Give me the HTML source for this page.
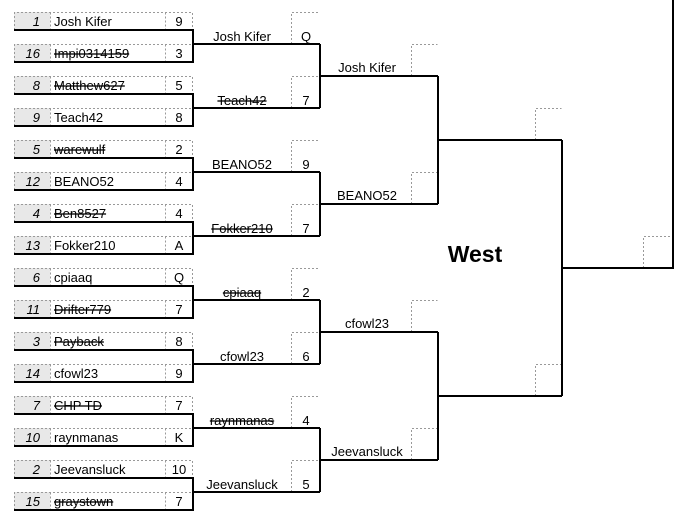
<!DOCTYPE html>
<html><head><meta charset="utf-8"><style>
html,body{margin:0;padding:0;background:#fff;width:682px;height:526px;overflow:hidden}
svg{display:block}
text{font-family:"Liberation Sans",Arial,sans-serif;font-size:13px;fill:#000}
.sd{font-style:italic;text-anchor:end}
.sc{text-anchor:middle}
.nm{text-anchor:middle}
.s{text-decoration:line-through}
.d{fill:none;stroke:#999;stroke-width:1;stroke-dasharray:2,2}
.g{fill:#e8e8e8}
.l{fill:none;stroke:#000;stroke-width:2}
</style></head><body>
<svg width="682" height="526" viewBox="0 0 682 526">
<g class="g">
<rect x="14" y="12" width="36" height="18"/><rect x="14" y="44" width="36" height="18"/>
<rect x="14" y="76" width="36" height="18"/><rect x="14" y="108" width="36" height="18"/>
<rect x="14" y="140" width="36" height="18"/><rect x="14" y="172" width="36" height="18"/>
<rect x="14" y="204" width="36" height="18"/><rect x="14" y="236" width="36" height="18"/>
<rect x="14" y="268" width="36" height="18"/><rect x="14" y="300" width="36" height="18"/>
<rect x="14" y="332" width="36" height="18"/><rect x="14" y="364" width="36" height="18"/>
<rect x="14" y="396" width="36" height="18"/><rect x="14" y="428" width="36" height="18"/>
<rect x="14" y="460" width="36" height="18"/><rect x="14" y="492" width="36" height="18"/>
</g>
<g class="d">
<path d="M14.5 30V12.5H192.5V30M50.5 12.5V30M165.5 12.5V30"/>
<path d="M14.5 62V44.5H192.5V62M50.5 44.5V62M165.5 44.5V62"/>
<path d="M14.5 94V76.5H192.5V94M50.5 76.5V94M165.5 76.5V94"/>
<path d="M14.5 126V108.5H192.5V126M50.5 108.5V126M165.5 108.5V126"/>
<path d="M14.5 158V140.5H192.5V158M50.5 140.5V158M165.5 140.5V158"/>
<path d="M14.5 190V172.5H192.5V190M50.5 172.5V190M165.5 172.5V190"/>
<path d="M14.5 222V204.5H192.5V222M50.5 204.5V222M165.5 204.5V222"/>
<path d="M14.5 254V236.5H192.5V254M50.5 236.5V254M165.5 236.5V254"/>
<path d="M14.5 286V268.5H192.5V286M50.5 268.5V286M165.5 268.5V286"/>
<path d="M14.5 318V300.5H192.5V318M50.5 300.5V318M165.5 300.5V318"/>
<path d="M14.5 350V332.5H192.5V350M50.5 332.5V350M165.5 332.5V350"/>
<path d="M14.5 382V364.5H192.5V382M50.5 364.5V382M165.5 364.5V382"/>
<path d="M14.5 414V396.5H192.5V414M50.5 396.5V414M165.5 396.5V414"/>
<path d="M14.5 446V428.5H192.5V446M50.5 428.5V446M165.5 428.5V446"/>
<path d="M14.5 478V460.5H192.5V478M50.5 460.5V478M165.5 460.5V478"/>
<path d="M14.5 510V492.5H192.5V510M50.5 492.5V510M165.5 492.5V510"/>
<path d="M291.5 44V12.5H319.5"/><path d="M291.5 108V76.5H319.5"/>
<path d="M291.5 172V140.5H319.5"/><path d="M291.5 236V204.5H319.5"/>
<path d="M291.5 300V268.5H319.5"/><path d="M291.5 364V332.5H319.5"/>
<path d="M291.5 428V396.5H319.5"/><path d="M291.5 492V460.5H319.5"/>
<path d="M411.5 76V44.5H437.5"/><path d="M411.5 204V172.5H437.5"/>
<path d="M411.5 332V300.5H437.5"/><path d="M411.5 460V428.5H437.5"/>
<path d="M535.5 140V108.5H561.5"/><path d="M535.5 396V364.5H561.5"/>
<path d="M643.5 268V236.5H672.5"/>
</g>
<g class="l">
<path d="M14 30H193V62H14M193 44H320"/>
<path d="M14 94H193V126H14M193 108H320"/>
<path d="M14 158H193V190H14M193 172H320"/>
<path d="M14 222H193V254H14M193 236H320"/>
<path d="M14 286H193V318H14M193 300H320"/>
<path d="M14 350H193V382H14M193 364H320"/>
<path d="M14 414H193V446H14M193 428H320"/>
<path d="M14 478H193V510H14M193 492H320"/>
<path d="M320 44V108M320 76H438"/>
<path d="M320 172V236M320 204H438"/>
<path d="M320 300V364M320 332H438"/>
<path d="M320 428V492M320 460H438"/>
<path d="M438 76V204M438 140H562"/>
<path d="M438 332V460M438 396H562"/>
<path d="M562 140V396M562 268H673"/>
<path d="M673 0V269"/>
</g>
<g>
<text class="sd" x="40" y="26">1</text><text x="54" y="26">Josh Kifer</text><text class="sc" x="179" y="26">9</text>
<text class="sd" x="40" y="58">16</text><text class="s" x="54" y="58">Impi0314159</text><text class="sc" x="179" y="58">3</text>
<text class="sd" x="40" y="90">8</text><text class="s" x="54" y="90">Matthew627</text><text class="sc" x="179" y="90">5</text>
<text class="sd" x="40" y="122">9</text><text x="54" y="122">Teach42</text><text class="sc" x="179" y="122">8</text>
<text class="sd" x="40" y="154">5</text><text class="s" x="54" y="154">warewulf</text><text class="sc" x="179" y="154">2</text>
<text class="sd" x="40" y="186">12</text><text x="54" y="186">BEANO52</text><text class="sc" x="179" y="186">4</text>
<text class="sd" x="40" y="218">4</text><text class="s" x="54" y="218">Ben8527</text><text class="sc" x="179" y="218">4</text>
<text class="sd" x="40" y="250">13</text><text x="54" y="250">Fokker210</text><text class="sc" x="179" y="250">A</text>
<text class="sd" x="40" y="282">6</text><text x="54" y="282">cpiaaq</text><text class="sc" x="179" y="282">Q</text>
<text class="sd" x="40" y="314">11</text><text class="s" x="54" y="314">Drifter779</text><text class="sc" x="179" y="314">7</text>
<text class="sd" x="40" y="346">3</text><text class="s" x="54" y="346">Payback</text><text class="sc" x="179" y="346">8</text>
<text class="sd" x="40" y="378">14</text><text x="54" y="378">cfowl23</text><text class="sc" x="179" y="378">9</text>
<text class="sd" x="40" y="410">7</text><text class="s" x="54" y="410">CHP TD</text><text class="sc" x="179" y="410">7</text>
<text class="sd" x="40" y="442">10</text><text x="54" y="442">raynmanas</text><text class="sc" x="179" y="442">K</text>
<text class="sd" x="40" y="474">2</text><text x="54" y="474">Jeevansluck</text><text class="sc" x="179" y="474">10</text>
<text class="sd" x="40" y="506">15</text><text class="s" x="54" y="506">graystown</text><text class="sc" x="179" y="506">7</text>
</g>
<g>
<text class="nm" x="242" y="41">Josh Kifer</text><text class="sc" x="306" y="41">Q</text>
<text class="nm s" x="242" y="105">Teach42</text><text class="sc" x="306" y="105">7</text>
<text class="nm" x="242" y="169">BEANO52</text><text class="sc" x="306" y="169">9</text>
<text class="nm s" x="242" y="233">Fokker210</text><text class="sc" x="306" y="233">7</text>
<text class="nm s" x="242" y="297">cpiaaq</text><text class="sc" x="306" y="297">2</text>
<text class="nm" x="242" y="361">cfowl23</text><text class="sc" x="306" y="361">6</text>
<text class="nm s" x="242" y="425">raynmanas</text><text class="sc" x="306" y="425">4</text>
<text class="nm" x="242" y="489">Jeevansluck</text><text class="sc" x="306" y="489">5</text>
</g>
<g>
<text class="nm" x="367" y="72">Josh Kifer</text>
<text class="nm" x="367" y="200">BEANO52</text>
<text class="nm" x="367" y="328">cfowl23</text>
<text class="nm" x="367" y="456">Jeevansluck</text>
</g>
<text x="475" y="262" style="font-size:23px;font-weight:bold;text-anchor:middle">West</text>
</svg>
</body></html>
